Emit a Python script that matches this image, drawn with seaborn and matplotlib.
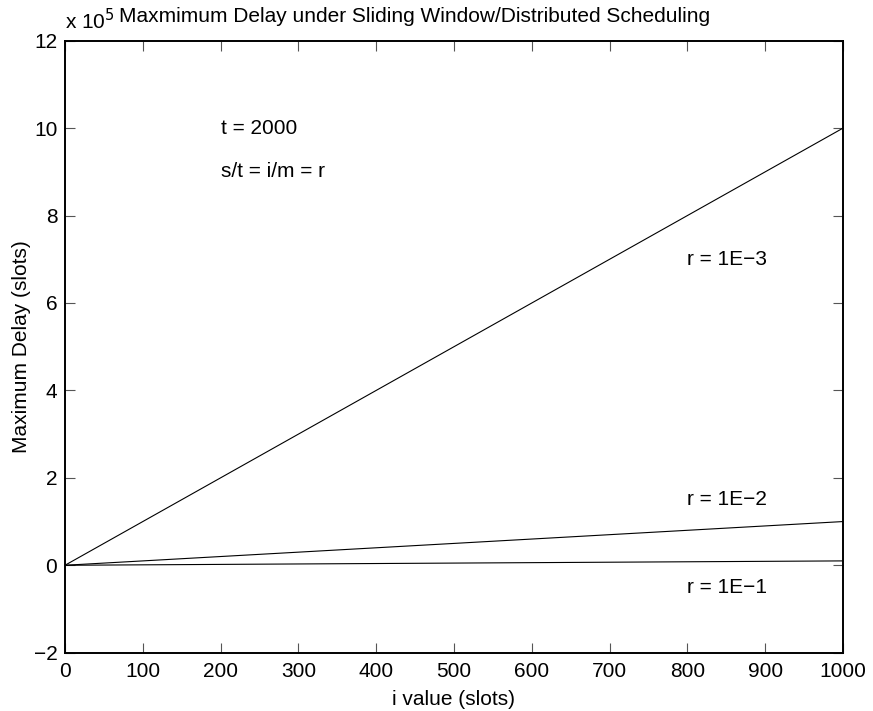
import matplotlib
matplotlib.use("Agg")
import matplotlib.pyplot as plt
import seaborn as sns
import pandas as pd
from matplotlib.ticker import FuncFormatter, MultipleLocator

# ---- data ----
i_values = [0, 1000]
delay_r_1e3 = [0, 1000000]
delay_r_1e2 = [0, 100000]
delay_r_1e1 = [0, 10000]
series_labels = ["r = 1E\u22123", "r = 1E\u22122", "r = 1E\u22121"]
label_x = [800, 800, 800]
label_y = [700000, 150000, -50000]
notes = ["t = 2000", "s/t = i/m = r"]
notes_x = [200, 200]
notes_y = [1000000, 900000]

sns.set_theme(style="white")
plt.rcParams["font.family"] = ["Liberation Sans", "DejaVu Sans"]
plt.rcParams["axes.unicode_minus"] = True
FS = 15

fig = plt.figure(figsize=(8.73, 7.11), dpi=100)
ax = fig.add_axes([65/873, 1-652.7/711, (843-65)/873, (652.7-40.7)/711])

frames = []
for lab, ys in zip(series_labels, [delay_r_1e3, delay_r_1e2, delay_r_1e1]):
    frames.append(pd.DataFrame({"i": i_values, "delay": ys, "r": lab}))
df = pd.concat(frames, ignore_index=True)

sns.lineplot(data=df, x="i", y="delay", units="r", estimator=None,
             color="black", linewidth=0.8, ax=ax, legend=False)

ax.set_xlim(0, 1000)
ax.set_ylim(-200000, 1200000)
ax.xaxis.set_major_locator(MultipleLocator(100))
ax.yaxis.set_major_locator(MultipleLocator(200000))
ax.yaxis.set_major_formatter(FuncFormatter(lambda v, p: f"{v/1e5:g}".replace("-", "\u2212")))
ax.xaxis.set_major_formatter(FuncFormatter(lambda v, p: f"{v:g}"))

for s in ax.spines.values():
    s.set_visible(True)
    s.set_color("black")
    s.set_linewidth(1.4)

ax.tick_params(direction="in", length=7, width=0.8, color="#555555",
               top=True, right=True, bottom=True, left=True,
               labelsize=FS, labelcolor="black", pad=5.5)
ax.tick_params(axis="x", pad=7)

ax.set_xlabel("i value (slots)", fontsize=FS, color="black", labelpad=6)
ax.set_ylabel("Maximum Delay (slots)", fontsize=FS, color="black", labelpad=2)

for t, x, y in zip(notes, notes_x, notes_y):
    ax.text(x, y, t, fontsize=FS, ha="left", va="center", color="black")
for t, x, y in zip(series_labels, label_x, label_y):
    ax.text(x, y, t, fontsize=FS, ha="left", va="center", color="black")

fig.text(415/873, 1-17/711, "Maxmimum Delay under Sliding Window/Distributed Scheduling",
         fontsize=FS, ha="center", va="center", color="black")
fig.text(65/873, 1-21/711, r"x 10$^{5}$", fontsize=FS, ha="left", va="center", color="black")

fig.savefig("out.png", dpi=100)
